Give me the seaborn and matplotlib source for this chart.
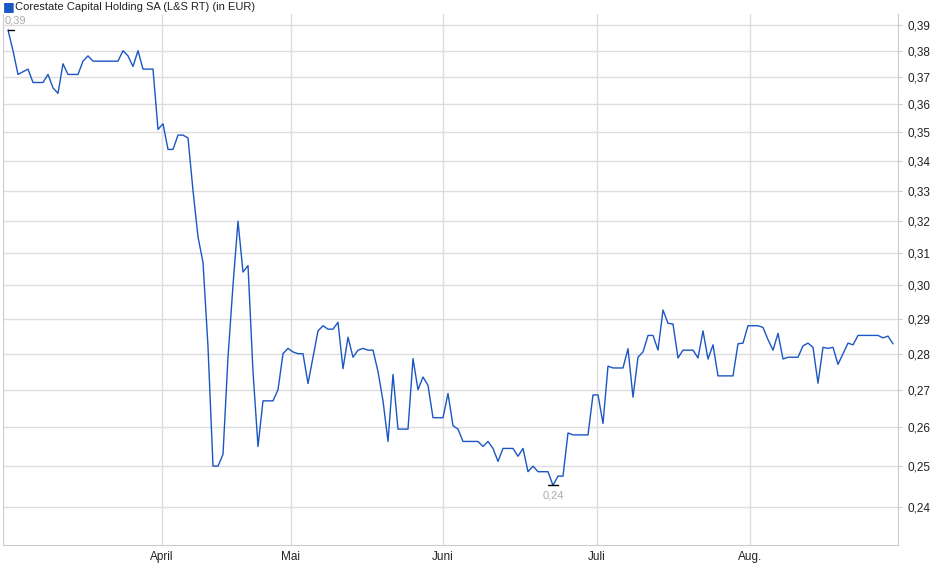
import numpy as np
import pandas as pd
import matplotlib
matplotlib.use("Agg")
import matplotlib.pyplot as plt
import seaborn as sns
from matplotlib.ticker import FixedLocator, NullLocator

# Kurswerte (EUR), ein Wert je Handelstag
prices = [
    0.388, 0.380, 0.371, 0.372, 0.373, 0.368, 0.368, 0.368, 0.371, 0.366,
    0.364, 0.375, 0.371, 0.371, 0.371, 0.376, 0.378, 0.376, 0.376, 0.376,
    0.376, 0.376, 0.376, 0.380, 0.378, 0.374, 0.380, 0.373, 0.373, 0.373,
    0.351, 0.353, 0.344, 0.344, 0.349, 0.349, 0.348, 0.330, 0.315, 0.307,
    0.282, 0.250, 0.250, 0.253, 0.279, 0.300, 0.320, 0.304, 0.306, 0.275,
    0.255, 0.267, 0.267, 0.267, 0.270, 0.280, 0.2815, 0.2805, 0.280, 0.280,
    0.2717, 0.279, 0.2865, 0.288, 0.287, 0.287, 0.289, 0.2758, 0.2847, 0.279,
    0.281, 0.2815, 0.281, 0.281, 0.275, 0.267, 0.2563, 0.2742, 0.2595, 0.2595,
    0.2595, 0.2786, 0.270, 0.2735, 0.2712, 0.2625, 0.2625, 0.2625, 0.269, 0.2604,
    0.2595, 0.2563, 0.2563, 0.2563, 0.2563, 0.255, 0.2563, 0.2545, 0.2512, 0.2545,
    0.2545, 0.2545, 0.2525, 0.2545, 0.2486, 0.250, 0.2486, 0.2486, 0.2486, 0.2452,
    0.2475, 0.2475, 0.2585, 0.258, 0.258, 0.258, 0.258, 0.2686, 0.2686, 0.261,
    0.2765, 0.276, 0.276, 0.276, 0.2814, 0.268, 0.279, 0.2805, 0.2852, 0.2852,
    0.281, 0.2926, 0.2887, 0.2885, 0.2788, 0.281, 0.281, 0.281, 0.2788, 0.2865,
    0.2785, 0.2825, 0.2738, 0.2738, 0.2738, 0.2738, 0.2828, 0.283, 0.288, 0.288,
    0.288, 0.2875, 0.284, 0.281, 0.2858, 0.2785, 0.279, 0.279, 0.279, 0.2822,
    0.283, 0.2818, 0.2718, 0.2818, 0.2815, 0.2818, 0.277, 0.280, 0.283, 0.2825,
    0.2852, 0.2852, 0.2852, 0.2852, 0.2852, 0.2845, 0.285, 0.2828,
]
month_labels = ["April", "Mai", "Juni", "Juli", "Aug."]
month_pos = [30.8, 56.6, 87.0, 117.8, 148.4]
y_ticks = [0.24, 0.25, 0.26, 0.27, 0.28, 0.29, 0.30, 0.31, 0.32, 0.33,
           0.34, 0.35, 0.36, 0.37, 0.38, 0.39]
hi_label, lo_label = "0,39", "0,24"

df = pd.DataFrame({"tag": np.arange(len(prices)), "kurs": prices})

sns.set_style("white")
plt.rcParams["font.family"] = ["Liberation Sans", "DejaVu Sans"]

fig = plt.figure(figsize=(9.4, 5.79), dpi=100)
ax = fig.add_axes([3 / 940, 1 - 545 / 579, 895 / 940, 531 / 579])
sns.lineplot(data=df, x="tag", y="kurs", ax=ax, color="#1a56c4", linewidth=1.0)

ax.set_yscale("log")
ax.set_ylim(0.2309, 0.3943)
ax.set_xlim(-1, 178)
ax.yaxis.set_major_locator(FixedLocator(y_ticks))
ax.yaxis.set_minor_locator(NullLocator())
ax.set_yticklabels([f"{v:.2f}".replace(".", ",") for v in y_ticks])
ax.yaxis.tick_right()
ax.set_xticks(month_pos)
ax.set_xticklabels(month_labels)
ax.tick_params(axis="both", labelsize=8.5, colors="#222222", length=3, color="#cccccc")
ax.tick_params(axis="x", length=0, pad=4)
ax.grid(True, color="#dddddd", linewidth=1)
ax.set_xlabel("")
ax.set_ylabel("")
for s in ax.spines.values():
    s.set_color("#cccccc")
ax.spines["top"].set_visible(False)

# Hoch / Tief markieren
i_hi = int(np.argmax(prices))
i_lo = int(np.argmin(prices))
ax.plot([i_hi, i_hi + 1.2], [prices[i_hi]] * 2, color="black", linewidth=1)
ax.annotate(hi_label, (i_hi + 1.5, prices[i_hi]), xytext=(0, 3), textcoords="offset points",
            ha="center", va="bottom", fontsize=8, color="#aaaaaa")
ax.plot([i_lo - 1, i_lo + 1], [prices[i_lo]] * 2, color="black", linewidth=1)
ax.annotate(lo_label, (i_lo, prices[i_lo]), xytext=(0, -4), textcoords="offset points",
            ha="center", va="top", fontsize=8, color="#aaaaaa")

fig.text(3 / 940, 1 - 7 / 579, "\u25a0", color="#1a56c4", fontsize=9, va="center",
         family=["DejaVu Sans"])
fig.text(15 / 940, 1 - 7 / 579, "Corestate Capital Holding SA (L&S RT) (in EUR)",
         fontsize=8, va="center", color="#222222")

fig.savefig("out.png", dpi=100)
